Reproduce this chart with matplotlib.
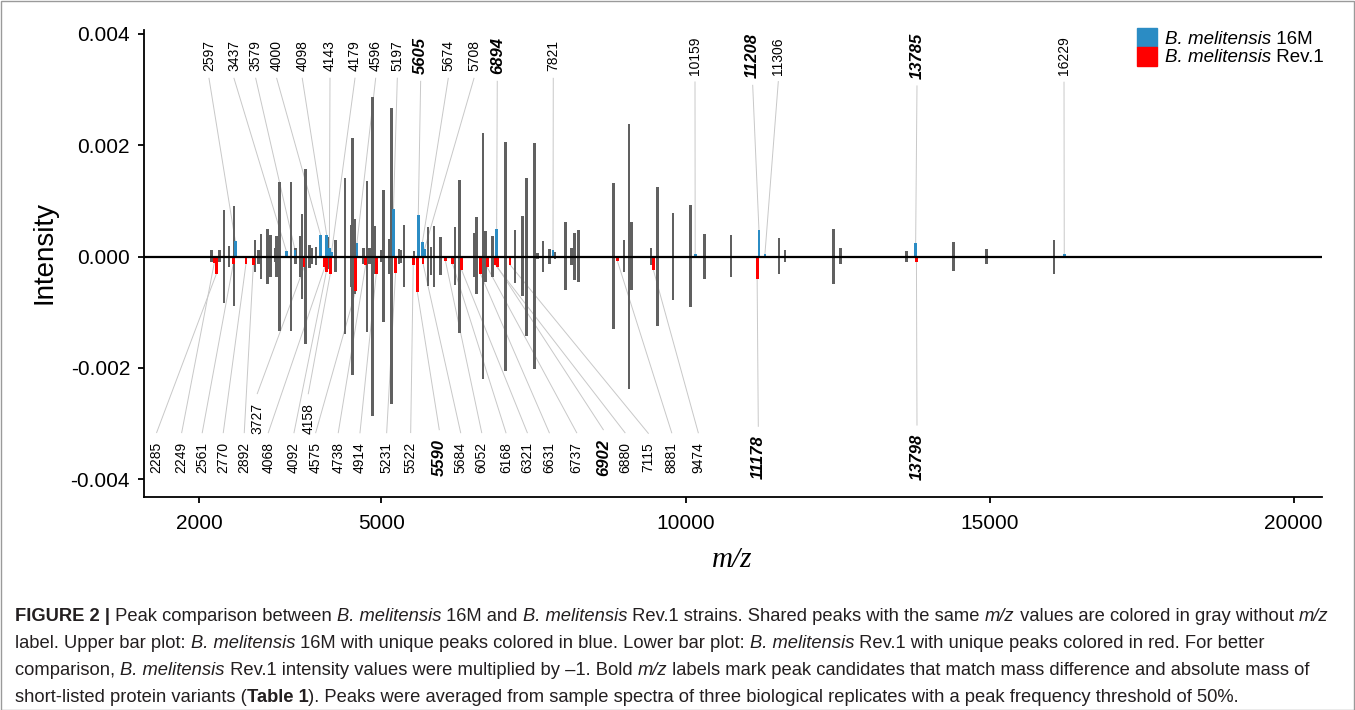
import matplotlib
matplotlib.use("Agg")
import matplotlib.pyplot as plt
from matplotlib.patches import Rectangle

plt.rcParams["font.family"] = ["Liberation Sans", "DejaVu Sans"]

GRAY, BLUE, RED = "#606060", "#2b8cc4", "#ff0000"

# --- shared peaks (gray): m/z, 16M intensity, Rev.1 intensity ---
shared_mz = [2207, 2332, 2409, 2492, 2574, 2919, 2973, 3018, 3128, 3171,
             3248, 3276, 3325, 3511, 3589, 3659, 3692, 3746, 3819, 3845,
             3922, 4115, 4240, 4399, 4498, 4526, 4552, 4707, 4761, 4806,
             4848, 4893, 4992, 5036, 5123, 5168, 5288, 5320, 5370, 5534,
             5765, 5814, 5863, 5967, 6209, 6279, 6526, 6566, 6669, 6714,
             6829, 7042, 7195, 7316, 7388, 7513, 7569, 7656, 7766, 7853,
             8029, 8128, 8177, 8243, 8819, 8988, 9070, 9115, 9432, 9536,
             9794, 10085, 10315, 10748, 11537, 11636, 12437, 12546, 13636, 14404,
             14955, 16060]
shared_16m = [1.1e-4, 1.1e-4, 8.4e-4, 1.8e-4, 9.0e-4, 2.9e-4, 1.2e-4, 4.1e-4, 4.9e-4, 3.9e-4,
              1.5e-4, 3.7e-4, 13.4e-4, 13.3e-4, 1.5e-4, 3.7e-4, 7.7e-4, 15.7e-4, 2.1e-4, 1.5e-4,
              1.7e-4, 3.5e-4, 2.9e-4, 14.0e-4, 5.6e-4, 21.3e-4, 6.7e-4, 1.5e-4, 13.6e-4, 1.5e-4,
              28.6e-4, 5.5e-4, 1.2e-4, 11.9e-4, 3.2e-4, 26.6e-4, 1.4e-4, 1.2e-4, 5.6e-4, 1.0e-4,
              5.3e-4, 1.7e-4, 5.5e-4, 3.5e-4, 5.3e-4, 13.8e-4, 4.2e-4, 7.0e-4, 22.1e-4, 4.6e-4,
              3.7e-4, 20.5e-4, 4.8e-4, 7.2e-4, 14.1e-4, 20.3e-4, 0.6e-4, 2.8e-4, 1.4e-4, 0.8e-4,
              6.1e-4, 1.5e-4, 4.3e-4, 4.7e-4, 13.1e-4, 2.9e-4, 23.8e-4, 6.1e-4, 1.6e-4, 12.5e-4,
              7.8e-4, 9.2e-4, 4.1e-4, 3.8e-4, 3.3e-4, 1.1e-4, 5.0e-4, 1.5e-4, 0.9e-4, 2.6e-4,
              1.4e-4, 3.0e-4]
shared_rev1 = [1.0e-4, 1.0e-4, 8.4e-4, 1.8e-4, 8.9e-4, 2.8e-4, 1.3e-4, 4.0e-4, 4.9e-4, 3.7e-4,
               0.9e-4, 3.6e-4, 13.3e-4, 13.3e-4, 1.3e-4, 3.7e-4, 7.6e-4, 15.7e-4, 2.0e-4, 1.4e-4,
               1.6e-4, 2.2e-4, 2.8e-4, 13.9e-4, 5.5e-4, 21.2e-4, 6.7e-4, 1.3e-4, 13.6e-4, 1.3e-4,
               28.6e-4, 3.1e-4, 1.0e-4, 11.8e-4, 3.1e-4, 26.5e-4, 1.3e-4, 1.1e-4, 5.5e-4, 1.0e-4,
               5.3e-4, 3.4e-4, 5.5e-4, 3.4e-4, 5.2e-4, 13.8e-4, 3.6e-4, 6.8e-4, 22.0e-4, 4.5e-4,
               3.6e-4, 20.5e-4, 4.8e-4, 7.0e-4, 14.2e-4, 20.2e-4, 0.5e-4, 2.7e-4, 1.3e-4, 0.5e-4,
               6.0e-4, 1.6e-4, 4.2e-4, 4.6e-4, 13.0e-4, 2.8e-4, 23.7e-4, 6.0e-4, 1.6e-4, 12.4e-4,
               7.8e-4, 9.1e-4, 4.0e-4, 3.7e-4, 3.2e-4, 1.0e-4, 4.9e-4, 1.4e-4, 0.9e-4, 2.6e-4,
               1.4e-4, 3.1e-4]

# --- unique peaks: 16M (blue, up) and Rev.1 (red, down) ---
uniq16_mz = [2597, 3437, 3579, 4000, 4098, 4143, 4179, 4596, 5197, 5605,
             5674, 5708, 6894, 7821, 10159, 11208, 11306, 13785, 16229]
uniq16_int = [2.7e-4, 0.9e-4, 1.1e-4, 3.8e-4, 3.9e-4, 1.5e-4, 0.8e-4, 2.4e-4, 8.5e-4, 7.5e-4,
              2.6e-4, 1.35e-4, 4.9e-4, 1.1e-4, 0.45e-4, 4.7e-4, 0.4e-4, 2.4e-4, 0.5e-4]
uniqrev_mz = [2285, 2249, 2561, 2770, 2892, 3727, 4068, 4092, 4158, 4575,
              4738, 4914, 5231, 5522, 5590, 5684, 6052, 6168, 6321, 6631,
              6737, 6902, 6880, 7115, 8881, 9474, 11178, 13798]
uniqrev_int = [3.1e-4, 1.2e-4, 1.4e-4, 1.4e-4, 1.6e-4, 1.9e-4, 1.9e-4, 2.8e-4, 3.1e-4, 6.2e-4,
               1.6e-4, 3.1e-4, 3.0e-4, 1.5e-4, 6.4e-4, 1.3e-4, 0.8e-4, 1.3e-4, 2.5e-4, 3.2e-4,
               1.9e-4, 1.8e-4, 1.6e-4, 1.5e-4, 0.85e-4, 2.5e-4, 4.1e-4, 1.0e-4]
bold_mz = {5605, 6894, 11208, 13785, 5590, 6902, 11178, 13798}

# where the repelled labels sit along the m/z axis (layout)
upper_label_x = [2163, 2574, 2931, 3276, 3697, 4153, 4564, 4904, 5260, 5644,
                 6098, 6521, 6904, 7825, 10156, 11105, 11526, 13807, 16225]
lower_label_x = [1302, 1714, 2052, 2398, 2743, 2957, 3138, 3561, 3796, 3918,
                 4289, 4646, 5085, 5480, 5950, 6302, 6648, 7047, 7398, 7760,
                 8210, 8648, 9005, 9388, 9773, 10210, 11197, 13807]
raised = {3727, 4158}

W, H = 1355, 710
fig = plt.figure(figsize=(W / 100, H / 100), dpi=100)
ax = fig.add_axes([144 / W, (H - 497) / H, (1322 - 144) / W, (497 - 30) / H])
ax.set_xlim(1094, 20468)
ax.set_ylim(-0.004314, 0.004063)

bw = 46
ax.bar(shared_mz, shared_16m, width=bw, color=GRAY, zorder=3)
ax.bar(shared_mz, [-v for v in shared_rev1], width=bw, color=GRAY, zorder=3)
ax.bar(uniq16_mz, uniq16_int, width=bw, color=BLUE, zorder=4)
ax.bar(uniqrev_mz, [-v for v in uniqrev_int], width=bw, color=RED, zorder=4)
ax.axhline(0, color="black", lw=1.6, zorder=5)

labels = []
for mz, val, lx in zip(uniq16_mz, uniq16_int, upper_label_x):
    b = mz in bold_mz
    t = ax.text(lx, 0.0036, str(mz), rotation=90, ha="center", va="center",
                fontsize=12 if b else 10, fontweight="bold" if b else "normal",
                fontstyle="italic" if b else "normal")
    labels.append((t, mz, val, 1))
for mz, val, lx in zip(uniqrev_mz, uniqrev_int, lower_label_x):
    b = mz in bold_mz
    y = -0.0029 if mz in raised else -0.0036
    t = ax.text(lx, y, str(mz), rotation=90, ha="center", va="center",
                fontsize=12 if b else 10, fontweight="bold" if b else "normal",
                fontstyle="italic" if b else "normal")
    labels.append((t, mz, val, -1))

# axes styling
ax.spines[["top", "right"]].set_visible(False)
ax.spines["left"].set_linewidth(1.3)
ax.spines["bottom"].set_linewidth(1.3)
ax.set_xticks([2000, 5000, 10000, 15000, 20000])
ax.set_xticklabels(["2000", "5000", "10000", "15000", "20000"])
ax.set_yticks([0.004, 0.002, 0.0, -0.002, -0.004])
ax.set_yticklabels(["0.004", "0.002", "0.000", "-0.002", "-0.004"])
ax.tick_params(axis="both", labelsize=15, length=4, width=1.3)
ax.tick_params(axis="x", pad=8)
ax.tick_params(axis="y", pad=6)

fig.text(45 / W, 1 - 252 / H, "Intensity", rotation=90, ha="center", va="center", fontsize=20)
fig.text(732 / W, 1 - 560 / H, "m/z", ha="center", va="center", fontsize=21,
         family="Liberation Serif", style="italic")

fig.canvas.draw()
renderer = fig.canvas.get_renderer()


def rich(x, y, parts, size, color="black"):
    """Draw mixed-style text left to right, x/y in pixels from the top left."""
    for txt, st in parts:
        kw = dict(fontsize=size, color=color,
                  fontweight="bold" if "b" in st else "normal",
                  fontstyle="italic" if "i" in st else "normal")
        fig.text(x / W, 1 - y / H, txt, ha="left", va="baseline", **kw)
        a = fig.text(0, 0, "x" + txt + "x", **kw)
        b = fig.text(0, 0, "xx", **kw)
        x += a.get_window_extent(renderer).width - b.get_window_extent(renderer).width
        a.remove()
        b.remove()


# legend
for y0, c, name in [(28, BLUE, "16M"), (47, RED, "Rev.1")]:
    fig.patches.append(Rectangle((1137 / W, 1 - (y0 + 18.5) / H), 19.5 / W, 18.5 / H,
                                 transform=fig.transFigure, color=c))
    rich(1165, y0 + 15.5, [("B. melitensis", "i"), (" " + name, "")], 13.5)

# connector segments from each label to its peak tip
inv = ax.transData.inverted()
for t, mz, val, sign in labels:
    bb = t.get_window_extent(renderer)
    yd = bb.y0 - 7 if sign > 0 else bb.y1 + 9
    y0 = inv.transform((bb.x0, yd))[1]
    ax.plot([t.get_position()[0], mz], [y0, sign * val], color="#c8c8c8", lw=0.7, zorder=1)

# caption
BM = ("B. melitensis", "i")
MZ = ("m/z", "i")
cap = [
    [("FIGURE 2 |", "b"), (" Peak comparison between ", ""), BM, (" 16M and ", ""), BM,
     (" Rev.1 strains. Shared peaks with the same ", ""), MZ,
     (" values are colored in gray without ", ""), MZ],
    [("label. Upper bar plot: ", ""), BM,
     (" 16M with unique peaks colored in blue. Lower bar plot: ", ""), BM,
     (" Rev.1 with unique peaks colored in red. For better", "")],
    [("comparison, ", ""), BM, (" Rev.1 intensity values were multiplied by –1. Bold ", ""), MZ,
     (" labels mark peak candidates that match mass difference and absolute mass of", "")],
    [("short-listed protein variants (", ""), ("Table 1", "b"),
     ("). Peaks were averaged from sample spectra of three biological replicates "
      "with a peak frequency threshold of 50%.", "")],
]
for i, parts in enumerate(cap):
    rich(15, 621 + 27 * i, parts, 13.2, "#231f20")

fig.patches.append(Rectangle((0.5 / W, 0.5 / H), (W - 1.5) / W, (H - 1.5) / H,
                             transform=fig.transFigure, fill=False, ec="#9a9a9a", lw=1))

fig.savefig("out.png", dpi=100)
